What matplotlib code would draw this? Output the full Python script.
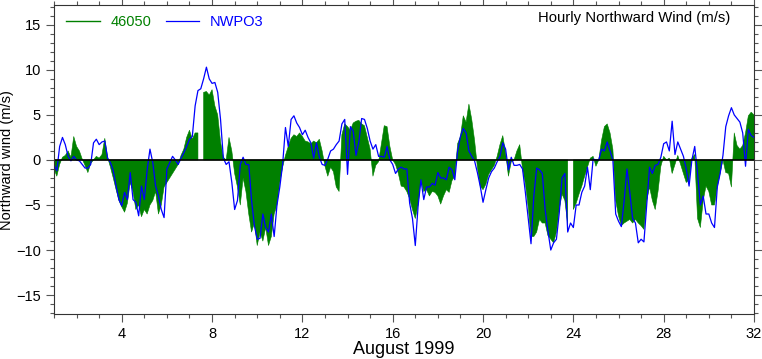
import numpy as np
import matplotlib
matplotlib.use("Agg")
import matplotlib.pyplot as plt
from matplotlib.ticker import MultipleLocator

plt.rcParams['font.family'] = ['Liberation Sans', 'DejaVu Sans']

# 3-hourly samples, starting 1 Aug 1999 00:00 (day 1.0) through day 32.0
step_hours = 3
nan = np.nan

# NWPO3 northward wind (m/s)
nwpo3 = [
    -0.5, -1.2, 1.5, 2.5, 1.7, 0.4, -0.1, 0.4,      # day 1
    0.0, -0.1, -0.5, -0.9, -0.9, -0.5, 1.9, 2.3,    # day 2
    1.7, 2.0, 2.1, 0.2, -0.3, -1.2, -2.9, -4.4,     # day 3
    -5.1, -3.6, -4.4, -1.4, -4.4, -4.7, -6.2, -2.9, # day 4
    -4.4, -1.1, 1.2, -0.3, -2.9, -4.0, -5.5, -6.4,  # day 5
    -1.0, -0.3, 0.4, 0.0, -0.5, 0.2, 0.8, 1.5,      # day 6
    2.3, 2.6, 6.0, 7.7, 7.9, 9.0, 10.3, 9.0,        # day 7
    8.5, 8.6, 7.5, 4.5, 0.2, -0.5, -0.2, -2.5,      # day 8
    -5.5, -4.5, -0.5, 0.3, -0.5, -0.5, -4.5, -7.3,  # day 9
    -8.8, -8.7, -6.0, -7.5, -8.0, -6.0, -8.5, -5.0, # day 10
    -3.0, -0.5, 3.6, 1.5, 4.5, 4.9, 4.1, 3.6,       # day 11
    2.8, 3.3, 2.5, 1.9, 0.2, 1.9, 0.3, -0.5,        # day 12
    -0.6, 0.1, 1.0, 1.2, 1.7, 2.1, 4.0, 4.5,        # day 13
    -1.6, 3.7, 3.2, 0.5, 2.0, 4.6, 4.5, 3.5,        # day 14
    2.1, 1.2, 1.7, 0.4, 0.4, 0.3, 1.5, 0.0,         # day 15
    -0.5, -1.5, -1.0, -0.8, -1.0, -1.0, -4.8, -6.5, # day 16
    -9.5, -5.1, -2.2, -4.4, -3.0, -3.0, -2.6, -2.8, # day 17
    -1.4, -2.0, -2.0, -2.2, -0.8, -1.1, -2.2, 1.0,  # day 18
    2.6, 3.5, 3.0, 1.0, 0.4, -0.1, -1.4, -2.9,      # day 19
    -4.7, -3.3, -2.0, -1.3, -0.9, -0.2, 0.4, 1.9,   # day 20
    1.2, -1.1, 0.3, -0.6, -0.6, -0.5, -1.0, -3.6,   # day 21
    -6.5, -9.3, -4.0, -0.9, -1.1, -1.5, -5.5, -7.9, # day 22
    -10.0, -9.2, -8.8, -5.9, -2.0, -1.5, -8.0, -7.0,# day 23
    -7.5, -5.0, -5.0, -3.6, -2.9, -0.8, -3.3, 0.1,  # day 24
    0.0, 0.0, 1.2, 1.0, 2.0, 1.0, 0.0, -6.0,        # day 25
    -6.8, -7.4, -4.5, -1.0, -3.6, -6.5, -7.0, -9.2, # day 26
    -8.8, -9.1, -5.0, -0.8, -1.5, -0.6, -0.5, 0.3,  # day 27
    1.8, 2.0, 1.0, 4.3, 0.6, 2.0, 1.2, 0.4,         # day 28
    -1.0, -2.9, 0.0, 1.5, -1.5, -5.0, -4.0, -6.0,   # day 29
    -6.0, -7.0, -7.5, -3.0, -1.5, 0.5, 3.7, 4.9,    # day 30
    5.8, 5.0, 4.6, 4.2, 3.0, -0.7, 3.4, 2.7,        # day 31
    2.5,
]

# Buoy 46050 northward wind (m/s)
b46050 = [
    -1.0, -1.8, -0.5, 0.3, 0.5, 1.0, 0.3, 2.6,      # day 1
    1.5, 1.0, 0.1, -0.6, -1.4, -0.4, 0.0, 0.4,      # day 2
    0.2, 0.6, 2.4, 0.3, -0.8, -2.0, -3.3, -4.5,     # day 3
    -5.2, -5.8, -4.8, -2.5, -3.5, -5.5, -5.0, -6.3, # day 4
    -5.5, -6.0, -5.0, -4.5, -3.5, -6.0, -5.0, -3.0, # day 5
    -2.5, -2.0, -1.5, -1.0, -0.5, 0.5, 1.2, 2.5,    # day 6
    3.3, 2.3, 3.0, 3.0, nan, 7.5, 7.6, 7.2,         # day 7
    7.8, 6.0, 5.0, 2.0, 0.3, 0.0, 2.5, 1.0,         # day 8
    -1.5, -3.0, -5.0, -2.0, -3.5, -6.0, -8.0, -7.0, # day 9
    -9.5, -8.0, -9.0, -7.5, -9.5, -8.5, -6.0, -5.0, # day 10
    -2.5, -0.8, 0.5, 1.5, 2.4, 2.8, 2.6, 3.0,       # day 11
    2.6, 2.1, 2.0, 1.8, 2.1, 1.9, 2.3, 1.0,         # day 12
    -0.7, -1.8, -0.8, -1.3, -3.0, -3.5, 2.8, 4.0,   # day 13
    3.7, 3.3, 4.1, 4.3, 4.4, 4.0, 3.8, 2.5,         # day 14
    1.2, -1.8, -0.6, -0.2, 1.8, 3.8, 3.7, 1.5,      # day 15
    0.0, -0.5, -1.5, -2.9, -3.0, -3.5, -4.3, -5.5,  # day 16
    -6.5, -5.0, -2.2, -3.5, -3.3, -4.0, -3.5, -3.6, # day 17
    -4.0, -4.9, -4.0, -3.3, -3.6, -2.3, -1.8, 1.8,  # day 18
    2.6, 4.9, 4.2, 6.2, 4.5, 2.2, -0.8, -2.9,       # day 19
    -3.3, -2.7, -1.6, -1.1, -0.6, 0.4, 1.7, 2.7,    # day 20
    0.8, -1.8, -0.2, 0.0, 1.0, 1.7, -1.0, -2.6,     # day 21
    -5.2, -8.5, -8.5, -8.0, -6.6, -7.0, -7.0, -8.4, # day 22
    -8.8, -9.2, -8.0, -5.5, -3.8, -4.5, -7.2, nan,  # day 23
    -5.5, -4.8, -3.8, -2.9, -1.8, -0.8, 0.2, 0.4,   # day 24
    -0.7, 0.0, 2.2, 3.7, 4.0, 3.0, 1.2, -4.5,       # day 25
    -6.2, -7.3, -7.0, -6.8, -6.6, -7.0, -6.6, -7.0, # day 26
    -7.3, -7.7, -4.5, -3.0, -4.5, -5.5, -3.5, -0.7, # day 27
    0.4, 0.0, 0.2, -1.5, -0.5, 0.5, -0.5, -1.5,     # day 28
    -2.5, -2.2, 0.2, 0.6, -6.5, -7.5, -4.5, -2.9,   # day 29
    -3.5, -5.0, -5.0, -3.0, -1.5, 0.0, -1.4, -1.5,  # day 30
    -3.0, 3.0, 1.6, 1.2, 1.6, 3.0, 4.9, 5.3,        # day 31
    5.0,
]

xticks = [4, 8, 12, 16, 20, 24, 28, 32]
yticks = [-15, -10, -5, 0, 5, 10, 15]

nwpo3 = np.array(nwpo3, dtype=float)
b46050 = np.array(b46050, dtype=float)
days = 1 + np.arange(len(nwpo3)) * step_hours / 24.0

fig = plt.figure(figsize=(7.62, 3.59), dpi=100)
ax = fig.add_axes([54/762, 1 - 314/359, 700/762, 309/359])

ax.fill_between(days, 0, b46050, color='#008000', lw=0.4, edgecolor='#008000')
ax.plot([], [], color='#008000', lw=1, label='46050')
ax.plot(days, nwpo3, color='#0000ff', lw=0.9, label='NWPO3')
ax.axhline(0, color='black', lw=1.2)

ax.set_xlim(1, 32)
ax.set_ylim(-17.1, 17.2)
ax.set_xticks(xticks)
ax.set_yticks(yticks)
ax.xaxis.set_minor_locator(MultipleLocator(1))
ax.yaxis.set_minor_locator(MultipleLocator(1))
ax.tick_params(which='both', direction='out', top=True, right=True,
               labelsize=10.5, color='#555555')
ax.tick_params(which='major', length=6, width=0.8)
ax.tick_params(which='minor', length=3, width=0.8)
for s in ax.spines.values():
    s.set_linewidth(0.8)
    s.set_color('#333333')

fig.text(404/762, 1 - 350/359, 'August 1999', fontsize=13,
         ha='center', va='center')
fig.text(7.5/762, 1 - 160/359, 'Northward wind (m/s)', fontsize=10.5,
         ha='center', va='center', rotation=90)

leg = ax.legend(loc='upper left', ncol=2, frameon=False, fontsize=10.5,
                handlelength=2.3, columnspacing=1.0, handletextpad=0.7,
                bbox_to_anchor=(-0.001, 1.01), labelcolor='linecolor')
ax.text(0.966, 0.982, 'Hourly Northward Wind (m/s)', transform=ax.transAxes,
        ha='right', va='top', fontsize=10.7)

fig.savefig('out.png', dpi=100)
